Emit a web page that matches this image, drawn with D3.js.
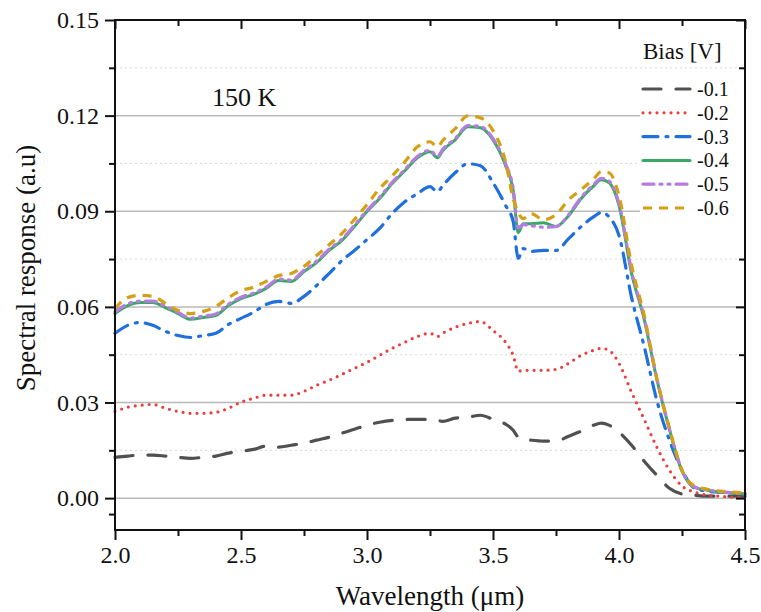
<!DOCTYPE html>
<html>
<head>
<meta charset="utf-8">
<script src="https://cdn.jsdelivr.net/npm/d3@7"></script>
<style>
  body { margin: 0; background: #fff; }
</style>
</head>
<body>
<div id="chart"></div>
<script>
// wavelength grid (um) the curves were read at
const wavelength = [2.00, 2.05, 2.10, 2.15, 2.20, 2.25, 2.30, 2.35, 2.40, 2.45,
  2.50, 2.55, 2.60, 2.65, 2.70, 2.75, 2.80, 2.85, 2.90, 2.95,
  3.00, 3.05, 3.10, 3.15, 3.20, 3.25, 3.28, 3.30, 3.35, 3.40,
  3.45, 3.50, 3.55, 3.58, 3.60, 3.62, 3.65, 3.70, 3.75, 3.80,
  3.85, 3.90, 3.93, 3.96, 4.00, 4.05, 4.10, 4.15, 4.20, 4.25,
  4.30, 4.35, 4.40, 4.45, 4.50]

const bias01 = [0.0128, 0.0132, 0.0135, 0.0135, 0.0132, 0.0128, 0.0125, 0.0128, 0.0132, 0.0141,
  0.0147, 0.0153, 0.0163, 0.0160, 0.0166, 0.0172, 0.0182, 0.0191, 0.0204, 0.0216,
  0.0229, 0.0238, 0.0244, 0.0247, 0.0247, 0.0247, 0.0244, 0.0241, 0.0251, 0.0254,
  0.0260, 0.0247, 0.0232, 0.0213, 0.0191, 0.0185, 0.0182, 0.0179, 0.0179, 0.0194,
  0.0210, 0.0229, 0.0235, 0.0229, 0.0207, 0.0166, 0.0116, 0.0072, 0.0031, 0.0013,
  0.0009, 0.0006, 0.0006, 0.0006, 0.0006]

const bias02 = [0.0272, 0.0285, 0.0291, 0.0294, 0.0282, 0.0272, 0.0266, 0.0266, 0.0269, 0.0282,
  0.0301, 0.0313, 0.0323, 0.0323, 0.0323, 0.0335, 0.0354, 0.0370, 0.0388, 0.0407,
  0.0426, 0.0448, 0.0470, 0.0489, 0.0507, 0.0517, 0.0507, 0.0517, 0.0536, 0.0548,
  0.0554, 0.0526, 0.0489, 0.0448, 0.0398, 0.0401, 0.0401, 0.0401, 0.0404, 0.0423,
  0.0448, 0.0464, 0.0470, 0.0464, 0.0423, 0.0332, 0.0247, 0.0160, 0.0088, 0.0038,
  0.0019, 0.0009, 0.0006, 0.0003, 0.0003]

const bias03 = [0.0517, 0.0542, 0.0551, 0.0542, 0.0523, 0.0510, 0.0504, 0.0510, 0.0517, 0.0545,
  0.0564, 0.0583, 0.0608, 0.0617, 0.0611, 0.0633, 0.0667, 0.0705, 0.0745, 0.0777,
  0.0811, 0.0846, 0.0893, 0.0930, 0.0955, 0.0977, 0.0961, 0.0980, 0.1021, 0.1049,
  0.1043, 0.0990, 0.0918, 0.0868, 0.0752, 0.0783, 0.0774, 0.0777, 0.0777, 0.0814,
  0.0852, 0.0883, 0.0896, 0.0883, 0.0824, 0.0629, 0.0476, 0.0307, 0.0182, 0.0088,
  0.0031, 0.0022, 0.0019, 0.0016, 0.0013]

const bias04 = [0.0579, 0.0604, 0.0614, 0.0614, 0.0598, 0.0579, 0.0561, 0.0567, 0.0573, 0.0604,
  0.0626, 0.0639, 0.0658, 0.0683, 0.0680, 0.0711, 0.0739, 0.0777, 0.0808, 0.0852,
  0.0899, 0.0940, 0.0987, 0.1027, 0.1068, 0.1087, 0.1068, 0.1090, 0.1124, 0.1165,
  0.1162, 0.1124, 0.1043, 0.0965, 0.0833, 0.0861, 0.0861, 0.0864, 0.0852, 0.0886,
  0.0940, 0.0980, 0.0999, 0.0990, 0.0918, 0.0705, 0.0561, 0.0373, 0.0216, 0.0085,
  0.0034, 0.0025, 0.0019, 0.0016, 0.0013]

const bias05 = [0.0584, 0.0609, 0.0618, 0.0618, 0.0602, 0.0583, 0.0565, 0.0571, 0.0578, 0.0608,
  0.0630, 0.0643, 0.0662, 0.0687, 0.0684, 0.0715, 0.0743, 0.0781, 0.0812, 0.0856,
  0.0903, 0.0944, 0.0991, 0.1031, 0.1072, 0.1091, 0.1072, 0.1094, 0.1128, 0.1169,
  0.1166, 0.1128, 0.1049, 0.0972, 0.0848, 0.0858, 0.0855, 0.0850, 0.0852, 0.0889,
  0.0944, 0.0984, 0.1003, 0.0995, 0.0924, 0.0712, 0.0566, 0.0376, 0.0218, 0.0087,
  0.0035, 0.0026, 0.0020, 0.0017, 0.0014]

const bias06 = [0.0595, 0.0629, 0.0636, 0.0633, 0.0611, 0.0589, 0.0579, 0.0586, 0.0601, 0.0629,
  0.0651, 0.0661, 0.0680, 0.0698, 0.0705, 0.0727, 0.0761, 0.0795, 0.0830, 0.0874,
  0.0921, 0.0971, 0.1011, 0.1055, 0.1102, 0.1118, 0.1102, 0.1121, 0.1159, 0.1199,
  0.1193, 0.1153, 0.1055, 0.0940, 0.0896, 0.0877, 0.0893, 0.0874, 0.0889, 0.0936,
  0.0968, 0.1002, 0.1024, 0.1021, 0.0949, 0.0730, 0.0573, 0.0376, 0.0219, 0.0088,
  0.0038, 0.0028, 0.0022, 0.0019, 0.0016]

const biasLabels = ['-0.1', '-0.2', '-0.3', '-0.4', '-0.5', '-0.6']
const xTicks = [2.0, 2.5, 3.0, 3.5, 4.0, 4.5]
const xMinorTicks = [2.25, 2.75, 3.25, 3.75, 4.25]
const yTicks = [0.00, 0.03, 0.06, 0.09, 0.12, 0.15]
const yMinorTicks = [-0.005, 0.015, 0.045, 0.075, 0.105, 0.135]

const serif = "'Liberation Serif'"

const width = 761,
  height = 612,
  margin = { top: 20, right: 16, bottom: 82, left: 115 }

const svg = d3
  .select('#chart')
  .append('svg')
  .attr('width', width)
  .attr('height', height)

const x = d3
  .scaleLinear()
  .domain([2, 4.5])
  .range([margin.left, width - margin.right])

const y = d3
  .scaleLinear()
  .domain([-0.01, 0.15])
  .range([height - margin.bottom, margin.top])

// line looks per series
const styles = [
  { color: '#505050', dash: '18,15', width: 3.2, cap: 'round' },
  { color: '#e8403f', dash: '0,7', width: 3.2, cap: 'round' },
  { color: '#1f6fdc', dash: '15,8,2,8', width: 3.2, cap: 'round' },
  { color: '#3aa865', dash: null, width: 3, cap: 'round' },
  { color: '#b47ee0', dash: '11,6,2,6,2,6', width: 3.2, cap: 'round' },
  { color: '#d4a015', dash: '9,7', width: 3.2, cap: 'butt' }
]

const series = [bias01, bias02, bias03, bias04, bias05, bias06].map(function(vals, i) {
  return {
    label: biasLabels[i],
    style: styles[i],
    values: vals.map(function(v, j) {
      return { w: wavelength[j], r: v }
    })
  }
})

// grid lines
svg
  .append('g')
  .selectAll('line')
  .data(yMinorTicks.filter(function(d) { return d > 0 }))
  .enter()
  .append('line')
  .attr('x1', x(2))
  .attr('x2', x(4.5))
  .attr('y1', function(d) { return y(d) })
  .attr('y2', function(d) { return y(d) })
  .attr('stroke', '#d8d8d8')
  .attr('stroke-width', 1)
  .attr('stroke-dasharray', '2,3')

svg
  .append('g')
  .selectAll('line')
  .data(yTicks.slice(0, -1))
  .enter()
  .append('line')
  .attr('x1', x(2))
  .attr('x2', x(4.5))
  .attr('y1', function(d) { return y(d) })
  .attr('y2', function(d) { return y(d) })
  .attr('stroke', '#b9b9b9')
  .attr('stroke-width', 1.5)

// curves
const line = d3
  .line()
  .x(function(d) { return x(d.w) })
  .y(function(d) { return y(d.r) })
  .curve(d3.curveMonotoneX)

svg
  .append('g')
  .selectAll('path')
  .data(series)
  .enter()
  .append('path')
  .attr('d', function(d) { return line(d.values) })
  .attr('fill', 'none')
  .attr('stroke', function(d) { return d.style.color })
  .attr('stroke-width', function(d) { return d.style.width })
  .attr('stroke-dasharray', function(d) { return d.style.dash })
  .attr('stroke-linecap', function(d) { return d.style.cap })
  .attr('stroke-linejoin', 'round')

// frame + axes
const plotBottom = height - margin.bottom,
  plotTop = margin.top,
  plotLeft = margin.left,
  plotRight = width - margin.right

svg
  .append('g')
  .attr('transform', 'translate(0,' + plotBottom + ')')
  .call(d3.axisBottom(x).tickValues(xMinorTicks).tickSize(6).tickFormat(''))
svg
  .append('g')
  .attr('transform', 'translate(0,' + plotBottom + ')')
  .call(d3.axisBottom(x).tickValues(xTicks).tickSize(10).tickPadding(6).tickFormat(d3.format('.1f')))
svg
  .append('g')
  .attr('transform', 'translate(0,' + plotTop + ')')
  .call(d3.axisBottom(x).tickValues(xMinorTicks).tickSize(6).tickFormat(''))
svg
  .append('g')
  .attr('transform', 'translate(0,' + plotTop + ')')
  .call(d3.axisBottom(x).tickValues(xTicks).tickSize(9).tickFormat(''))

svg
  .append('g')
  .attr('transform', 'translate(' + plotLeft + ',0)')
  .call(d3.axisLeft(y).tickValues(yMinorTicks).tickSize(6).tickFormat(''))
svg
  .append('g')
  .attr('transform', 'translate(' + plotLeft + ',0)')
  .call(d3.axisLeft(y).tickValues(yTicks).tickSize(10).tickPadding(6).tickFormat(d3.format('.2f')))
svg
  .append('g')
  .attr('transform', 'translate(' + plotRight + ',0)')
  .call(d3.axisLeft(y).tickValues(yMinorTicks).tickSize(6).tickFormat(''))
svg
  .append('g')
  .attr('transform', 'translate(' + plotRight + ',0)')
  .call(d3.axisLeft(y).tickValues(yTicks).tickSize(9).tickFormat(''))

svg.selectAll('.domain').remove()
svg.selectAll('.tick line').attr('stroke', '#111').attr('stroke-width', 2)
svg.selectAll('.tick text')
  .style('font-family', serif)
  .style('font-size', '24px')
  .attr('fill', '#111')

svg
  .append('rect')
  .attr('x', plotLeft)
  .attr('y', plotTop)
  .attr('width', plotRight - plotLeft)
  .attr('height', plotBottom - plotTop)
  .attr('fill', 'none')
  .attr('stroke', '#111')
  .attr('stroke-width', 2)

// titles
svg
  .append('text')
  .attr('x', (plotLeft + plotRight) / 2)
  .attr('y', 605)
  .attr('text-anchor', 'middle')
  .style('font-family', serif)
  .style('font-size', '27px')
  .attr('fill', '#111')
  .text('Wavelength (\u03bcm)')

svg
  .append('text')
  .attr('transform', 'translate(35,268)rotate(-90)')
  .attr('text-anchor', 'middle')
  .style('font-family', serif)
  .style('font-size', '27px')
  .attr('fill', '#111')
  .text('Spectral response (a.u)')

svg
  .append('text')
  .attr('x', 212)
  .attr('y', 106)
  .style('font-family', serif)
  .style('font-size', '26px')
  .attr('fill', '#111')
  .text('150 K')

// legend
const legend = svg.append('g')

legend
  .append('rect')
  .attr('x', 640)
  .attr('y', 73)
  .attr('width', plotRight - 641)
  .attr('height', 148)
  .attr('fill', '#fff')

legend
  .append('text')
  .attr('x', 643)
  .attr('y', 59)
  .style('font-family', serif)
  .style('font-size', '23px')
  .attr('fill', '#111')
  .text('Bias [V]')

const item = legend
  .selectAll('g')
  .data(series)
  .enter()
  .append('g')
  .attr('transform', function(d, i) {
    return 'translate(643,' + (89 + i * 23.8) + ')'
  })

item
  .append('line')
  .attr('x1', 0)
  .attr('x2', 47)
  .attr('stroke', function(d) { return d.style.color })
  .attr('stroke-width', function(d) { return d.style.width })
  .attr('stroke-dasharray', function(d) { return d.style.dash })
  .attr('stroke-linecap', function(d) { return d.style.cap })

item
  .append('text')
  .attr('x', 54)
  .attr('dy', '0.35em')
  .style('font-family', serif)
  .style('font-size', '20px')
  .attr('fill', '#111')
  .text(function(d) { return d.label })
</script>
</body>
</html>
